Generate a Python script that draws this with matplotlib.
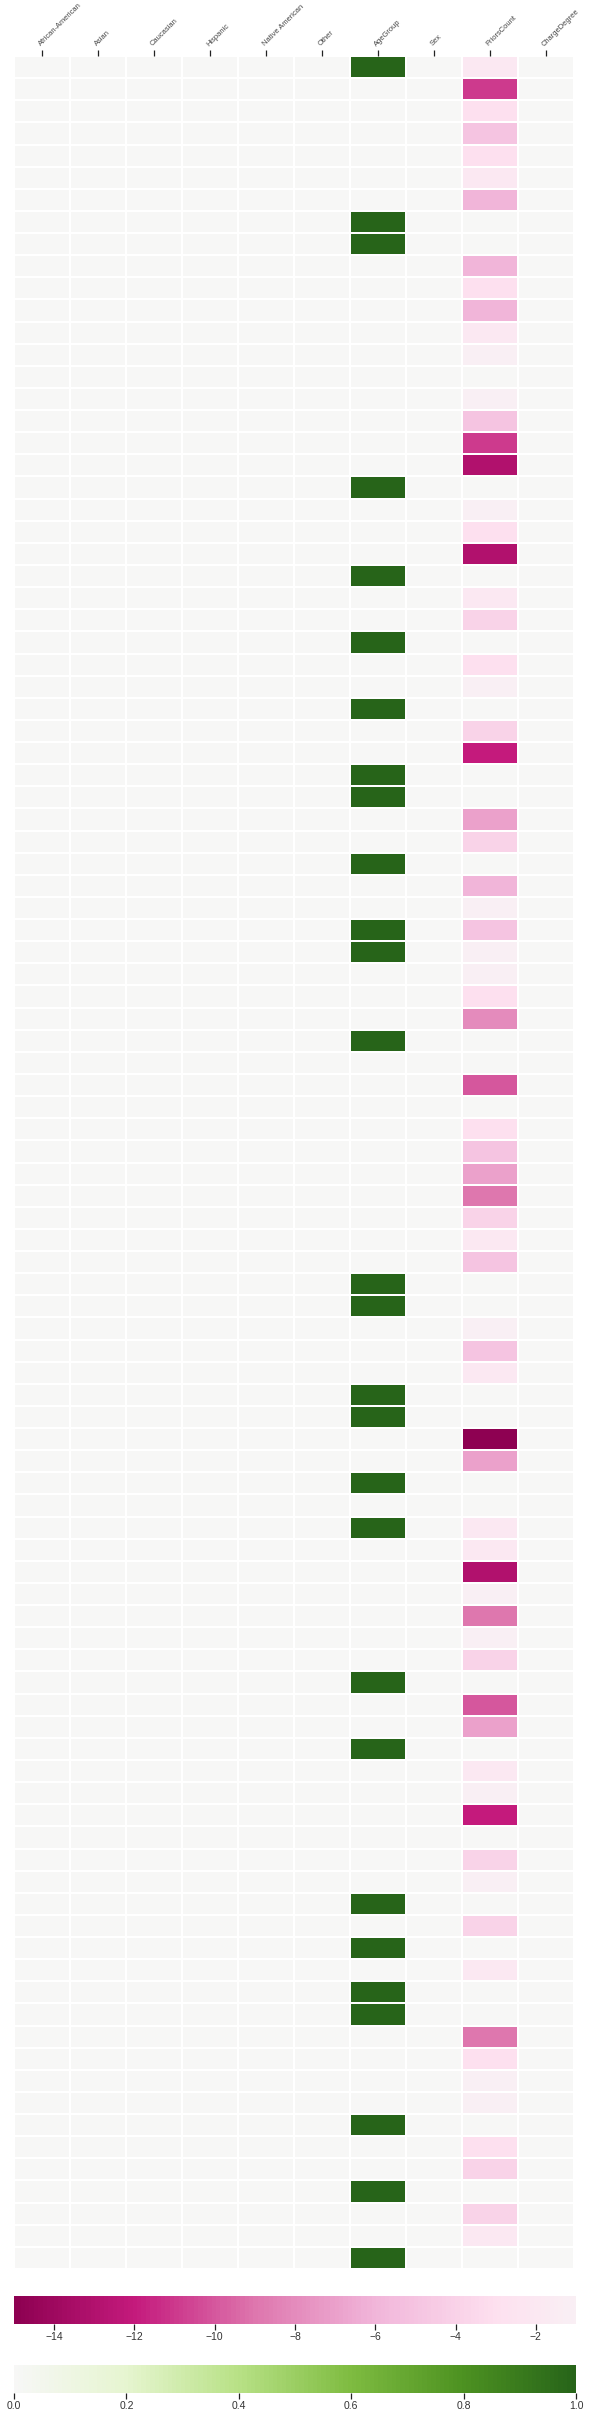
import numpy as np
import matplotlib
matplotlib.use('Agg')
import matplotlib.pyplot as plt
from matplotlib.colors import ListedColormap

plt.rcParams['font.family'] = ['Liberation Sans', 'DejaVu Sans']

# column names of the heatmap
columns = ['African-American', 'Asian', 'Caucasian', 'Hispanic',
           'Native American', 'Other', 'AgeGroup', 'Sex', 'PriorsCount',
           'ChargeDegree']

# change per row (100 rows)
age_group = [1, 0, 0, 0, 0, 0, 0, 1, 1, 0,
             0, 0, 0, 0, 0, 0, 0, 0, 0, 1,
             0, 0, 0, 1, 0, 0, 1, 0, 0, 1,
             0, 0, 1, 1, 0, 0, 1, 0, 0, 1,
             1, 0, 0, 0, 1, 0, 0, 0, 0, 0,
             0, 0, 0, 0, 0, 1, 1, 0, 0, 0,
             1, 1, 0, 0, 1, 0, 1, 0, 0, 0,
             0, 0, 0, 1, 0, 0, 1, 0, 0, 0,
             0, 0, 0, 1, 0, 1, 0, 1, 1, 0,
             0, 0, 0, 1, 0, 0, 1, 0, 0, 1]

priors_count = [-2, -11, -3, -5, -3, -2, -6, 0, 0, -6,
                -3, -6, -2, -1, 0, -1, -5, -11, -13, 0,
                -1, -3, -13, 0, -2, -4, 0, -3, -1, 0,
                -4, -12, 0, 0, -7, -4, 0, -6, -1, -5,
                -1, -1, -3, -8, 0, 0, -10, 0, -3, -5,
                -7, -9, -4, -2, -5, 0, 0, -1, -5, -2,
                0, 0, -15, -7, 0, 0, -2, -2, -13, -1,
                -9, -1, -4, 0, -10, -7, 0, -2, -1, -12,
                0, -4, -1, 0, -4, 0, -2, 0, 0, -9,
                -3, -1, -1, 0, -3, -4, 0, -4, -2, 0]

n_rows = len(age_group)
unchanged = [0] * n_rows  # all the other columns stay at zero

data = np.array([unchanged, unchanged, unchanged, unchanged, unchanged,
                 unchanged, age_group, unchanged, priors_count,
                 unchanged], dtype=float).T

# two halves of PiYG: pink for negative changes, green for positive
piyg = plt.get_cmap('PiYG')
pink_cmap = ListedColormap(piyg(np.linspace(0, 14 / 30, 256)))
green_cmap = ListedColormap(piyg(np.linspace(0.5, 1.0, 256)))

W, H = 591, 2420
fig = plt.figure(figsize=(W / 100, H / 100), dpi=100)
ax = fig.add_axes([14 / W, 1 - 2269 / H, 560 / W, (2269 - 56) / H])
cax1 = fig.add_axes([14 / W, 1 - 2324 / H, 562 / W, 28 / H])
cax2 = fig.add_axes([14 / W, 1 - 2393 / H, 562 / W, 28 / H])

pos = np.ma.masked_where(data < 0, data)
neg = np.ma.masked_where(data >= 0, data)
mg = ax.pcolormesh(pos, cmap=green_cmap, vmin=0, vmax=1,
                   edgecolors='white', linewidth=1.1)
mp = ax.pcolormesh(neg, cmap=pink_cmap, vmin=-15, vmax=-1,
                   edgecolors='white', linewidth=1.1)

ax.set_xlim(0, data.shape[1])
ax.set_ylim(n_rows, 0)
for s in ax.spines.values():
    s.set_visible(False)
ax.xaxis.tick_top()
ax.set_xticks(np.arange(len(columns)) + 0.5)
ax.set_xticklabels(columns, rotation=45, ha='left', rotation_mode='anchor',
                   fontsize=5.4, color='#444444')
ax.tick_params(axis='x', length=4, width=0.9, color='#222222', pad=2)
ax.set_yticks([])

cb1 = fig.colorbar(mp, cax=cax1, orientation='horizontal')
cb2 = fig.colorbar(mg, cax=cax2, orientation='horizontal')
for cb in (cb1, cb2):
    cb.outline.set_visible(False)
    cb.ax.tick_params(length=4, width=0.9, color='#222222', labelsize=7.5,
                      labelcolor='#333333', pad=2)

fig.savefig('out.png', dpi=100, facecolor='white')
